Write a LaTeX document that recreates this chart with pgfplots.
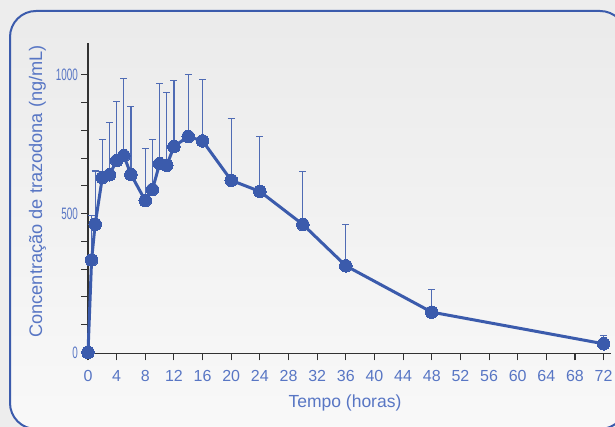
\documentclass[border=0pt]{standalone}
\usepackage{fontspec}
\setmainfont{Liberation Sans}
\usepackage{graphicx}
\usepackage{pgfplots}
\pgfplotsset{compat=1.18}
\usepackage{pgfplotstable}
\definecolor{lineblue}{RGB}{59,91,172}
\definecolor{textblue}{RGB}{88,118,196}
\definecolor{axisgray}{RGB}{50,50,50}
\pgfplotstableread{
t v e
0 0 0
0.5 333 160
1 462 192
2 630 138
3 640 188
4 691 213
5 709 277
6 641 245
8 547 188
9 587 181
10 680 289
11 674 262
12 742 237
14 778 224
16 762 220
20 620 224
24 580 198
30 461 191
36 312 149
48 145 83
72 31 30
}\datatable
\begin{document}
\begin{tikzpicture}[x=1pt,y=1pt]
\path[use as bounding box] (0,0) rectangle (615,427);
\clip (0,0) rectangle (615,427);
\fill[black!7] (0,0) rectangle (615,427);
\shade[top color=black!8, bottom color=black!2.5, rounded corners=26pt]
  (10,-2) rectangle (626,416);
\draw[lineblue, line width=2pt, rounded corners=26pt] (10,-2) rectangle (626,416);
\begin{axis}[
  at={(88pt,73.5pt)}, anchor=south west,
  scale only axis, width=522.8pt, height=310.5pt,
  xmin=0, xmax=73, ymin=-4, ymax=1115,
  axis x line=bottom, axis y line=left,
  axis line style={-, draw=axisgray, line width=1.1pt},
  every tick/.style={draw=axisgray, line width=1.1pt},
  tick align=outside,
  major tick length=7pt, minor tick length=7pt,
  xtick={0,4,...,72},
  ytick={0,500,1000},
  minor ytick={100,200,300,400,600,700,800,900},
  /pgf/number format/assume math mode=true,
  /pgf/number format/set thousands separator={},
  xticklabel style={font=\fontsize{16}{16}\selectfont, text=textblue, inner sep=2pt, yshift=-8pt},
  yticklabel style={font=\fontsize{16.5}{16.5}\selectfont, text=textblue, inner sep=2pt, xshift=-1pt},
  yticklabel={\scalebox{0.6}[1]{\pgfmathprintnumber{\tick}}},
  xlabel={Tempo (horas)},
  ylabel={Concentração de trazodona (ng/mL)},
  xlabel style={font=\fontsize{17.5}{17.5}\selectfont, text=textblue, at={(axis description cs:0.4916,-0.158)}, anchor=center},
  ylabel style={font=\fontsize{18.2}{18.2}\selectfont, text=textblue, at={(axis description cs:-0.0966,0.522)}, anchor=center},
  clip=false,
]
\addplot[draw=none, forget plot,
  error bars/.cd, y dir=plus, y explicit,
  error bar style={lineblue!90!white, line width=1.2pt},
  error mark options={lineblue!90!white, line width=1.2pt, mark size=3.5pt, rotate=90}]
  table[x=t, y=v, y error=e] {\datatable};
\addplot[lineblue, line width=3pt, mark=*, mark size=6.3pt,
  mark options={fill=lineblue, draw=lineblue, line width=0pt}]
  table[x=t, y=v] {\datatable};
\end{axis}
\end{tikzpicture}
\end{document}
